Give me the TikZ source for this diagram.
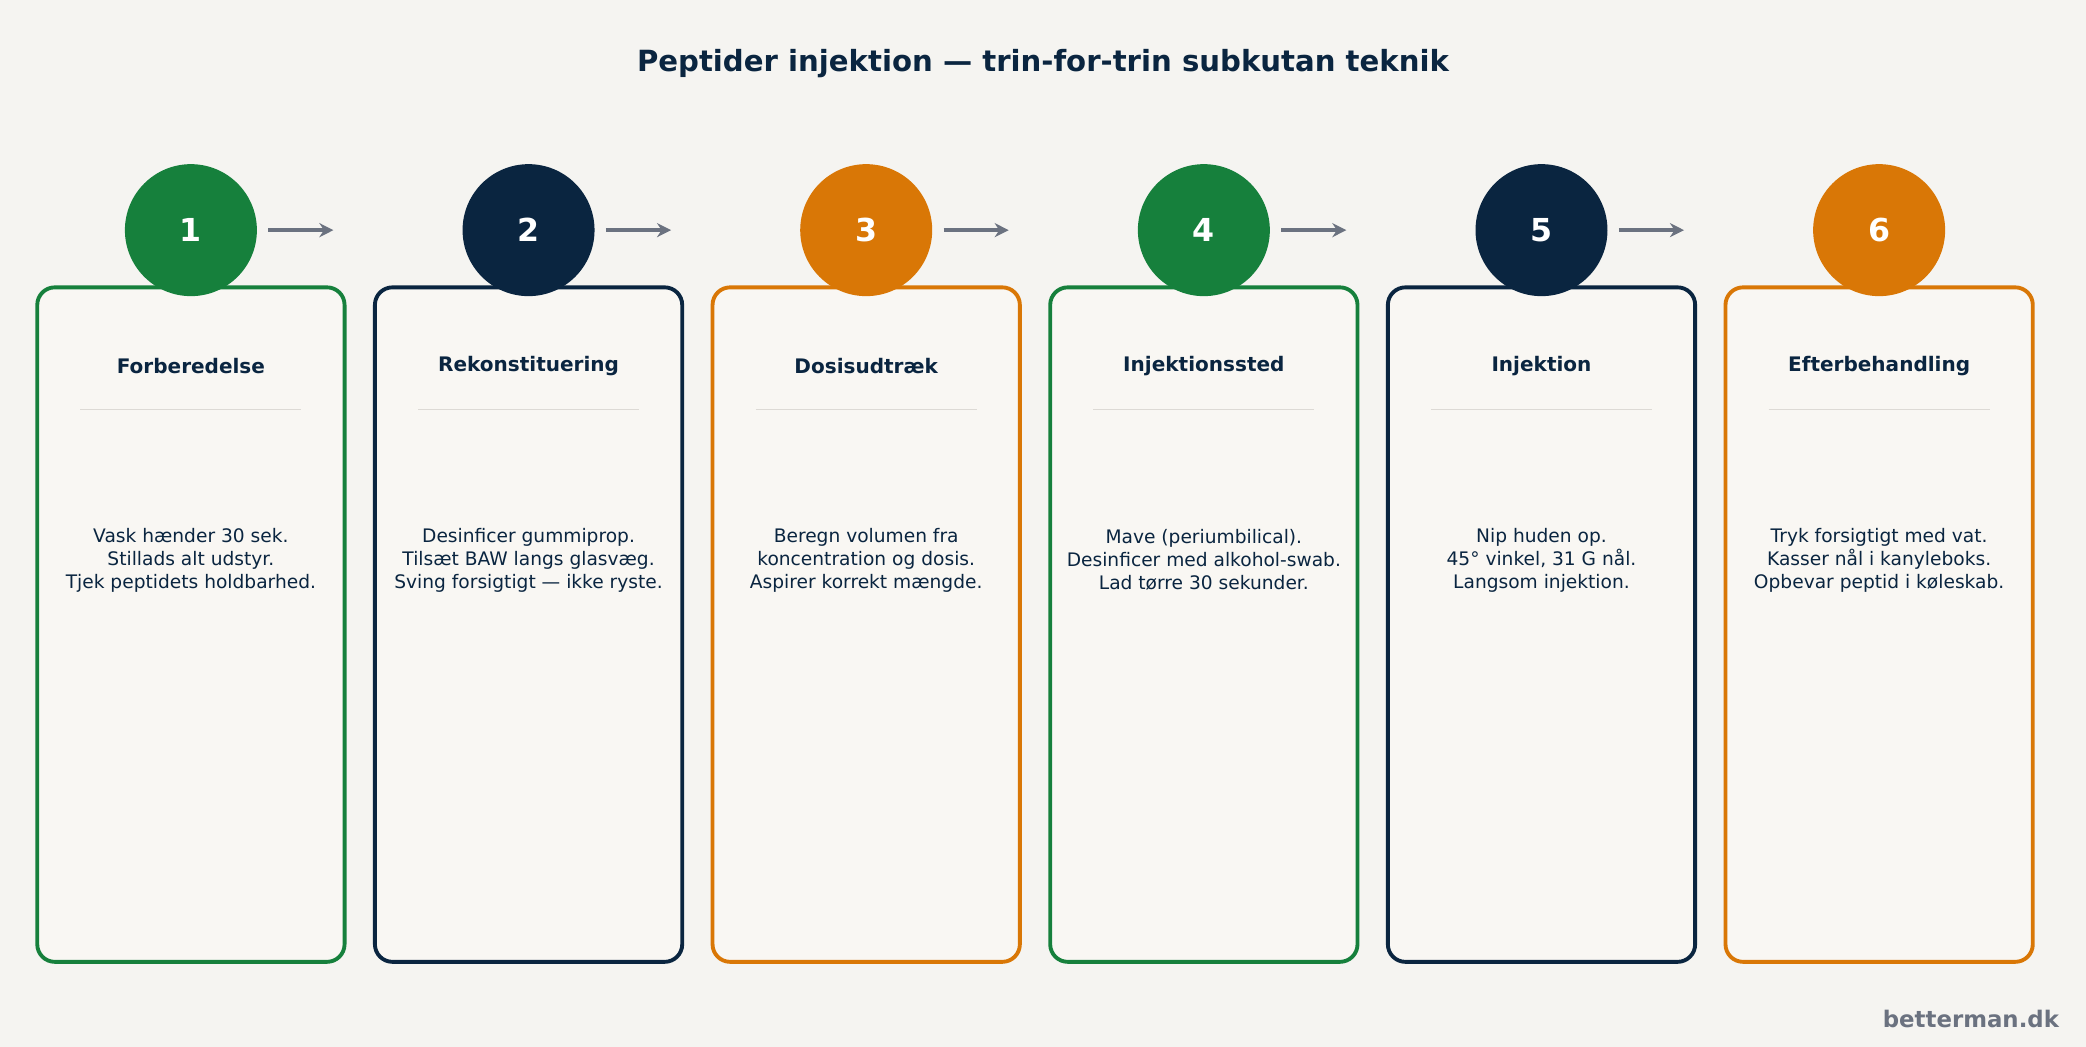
\documentclass[tikz,border=0pt]{standalone}
\usepackage{fontspec}
\setmainfont{DejaVu Sans}
\usetikzlibrary{arrows.meta, calc}
\definecolor{navy}{HTML}{0A2540}
\definecolor{stepgreen}{HTML}{16803C}
\definecolor{steporange}{HTML}{D97706}
\definecolor{bgcol}{HTML}{F5F4F1}
\definecolor{cardfill}{HTML}{F9F7F3}
\definecolor{arrowgrey}{HTML}{6B7280}
\definecolor{rulegrey}{HTML}{DDDAD5}

\begin{document}
\begin{tikzpicture}[
        x = 0.013304cm, y = -0.013304cm,
        > = {Stealth[length=4pt,width=4pt]}, % arrow head style
        card/.style = {draw = #1, line width = 1.1pt, fill = cardfill, rounded corners = 5pt},
        badge/.style = {circle, fill = #1, minimum size = 1.32cm, inner sep = 0pt,
                        text = white, font = \bfseries\fontsize{9}{9}\selectfont},
        heading/.style = {text = navy, font = \bfseries\fontsize{5.7}{6}\selectfont},
        body/.style = {text = navy, align = center, font = \fontsize{5.3}{6.5}\selectfont},
        link/.style = {->, draw = arrowgrey, line width = 1pt}
    ]

    % background
    \fill[bgcol] (0,0) rectangle (1568,787);
    \useasboundingbox (0,0) rectangle (1568,787);

    \node[text = navy, font = \bfseries\fontsize{8.3}{9}\selectfont] (title) at (784,48)
        {Peptider injektion — trin-for-trin subkutan teknik};

    \foreach \i/\col/\head/\txt in {
        1/stepgreen/Forberedelse/{Vask hænder 30 sek.\\Stillads alt udstyr.\\Tjek peptidets holdbarhed.},
        2/navy/Rekonstituering/{Desinficer gummiprop.\\Tilsæt BAW langs glasvæg.\\Sving forsigtigt — ikke ryste.},
        3/steporange/Dosisudtræk/{Beregn volumen fra\\koncentration og dosis.\\Aspirer korrekt mængde.},
        4/stepgreen/Injektionssted/{Mave (periumbilical).\\Desinficer med alkohol-swab.\\Lad tørre 30 sekunder.},
        5/navy/Injektion/{Nip huden op.\\45° vinkel, 31 G nål.\\Langsom injektion.},
        6/steporange/Efterbehandling/{Tryk forsigtigt med vat.\\Kasser nål i kanyleboks.\\Opbevar peptid i køleskab.}} {
        \pgfmathsetmacro{\cx}{143.5 + (\i-1)*253.8}
        \draw[card = \col] (\cx-115.5,216) rectangle (\cx+115.5,723);
        \node[badge = \col] (b\i) at (\cx,173) {\i};
        \node[heading] (h\i) at (\cx,275) {\head};
        \draw[rulegrey, line width = 0.4pt] (\cx-83,308) -- (\cx+83,308);
        \node[body] (t\i) at (\cx,421) {\txt};
    }

    \foreach \i in {1,...,5} {
        \coordinate (a\i) at ($(b\i.east)+(8,0)$);
        \coordinate (e\i) at ($(b\i.east)+(57,0)$);
        \draw[link] (a\i) -- (e\i);
    }

    \node[anchor = east, text = arrowgrey, font = \bfseries\fontsize{6.5}{7}\selectfont] (site) at (1557,766) {betterman.dk};

\end{tikzpicture}
\end{document}
